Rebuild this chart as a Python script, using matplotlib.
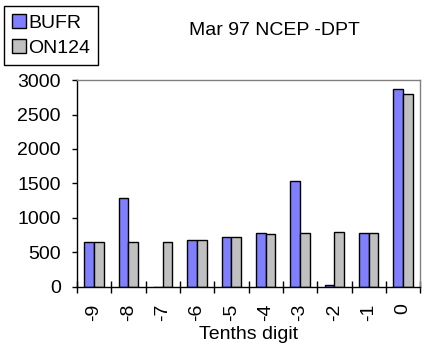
import numpy as np
import matplotlib
matplotlib.use("Agg")
import matplotlib.pyplot as plt
from matplotlib.ticker import FixedLocator

plt.rcParams['font.family'] = ['Liberation Sans', 'DejaVu Sans']

categories = ['-9', '-8', '-7', '-6', '-5', '-4', '-3', '-2', '-1', '0']
bufr = [655, 1285, 0, 672, 720, 775, 1535, 20, 775, 2865]
on124 = [655, 645, 650, 672, 720, 762, 775, 790, 775, 2800]

fs = 14
fig = plt.figure(figsize=(4.27, 3.53), dpi=100)
ax = fig.add_axes([0.180, 0.188, 0.804, 0.585])

x = np.arange(len(categories))
w = 0.28
ax.bar(x - w / 2, bufr, w, color='#8080FF', edgecolor='black', linewidth=1, label='BUFR')
ax.bar(x + w / 2, on124, w, color='#C0C0C0', edgecolor='black', linewidth=1, label='ON124')

ax.set_xlim(-0.5, len(categories) - 0.5)
ax.set_ylim(0, 3000)
ax.set_yticks(range(0, 3001, 500))
ax.set_xticks(x)
ax.set_xticklabels(categories, rotation=90, fontsize=fs)
ax.xaxis.set_minor_locator(FixedLocator(np.arange(-0.5, len(categories), 1)))
ax.tick_params(axis='x', which='major', length=0, pad=12)
ax.tick_params(axis='x', which='minor', direction='inout', length=8.6, width=1, color='black')
ax.tick_params(axis='y', length=3.6, width=1, pad=8, labelsize=fs)

for s in ['left', 'bottom']:
    ax.spines[s].set_color('black')
    ax.spines[s].set_linewidth(1)
for s in ['top', 'right']:
    ax.spines[s].set_color('#808080')
    ax.spines[s].set_linewidth(1)

ax.set_xlabel('Tenths digit', fontsize=fs, labelpad=4)
fig.text(0.642, 0.915, 'Mar 97 NCEP -DPT', fontsize=fs, ha='center', va='center')

leg = fig.legend(loc='upper left', bbox_to_anchor=(0.009, 0.983), fontsize=fs,
                 frameon=True, fancybox=False, edgecolor='black', framealpha=1,
                 handlelength=0.72, handleheight=0.72, handletextpad=0.15,
                 borderpad=0.4, labelspacing=0.4, borderaxespad=0)
leg.get_frame().set_linewidth(1)

fig.savefig('out.png', dpi=100)
